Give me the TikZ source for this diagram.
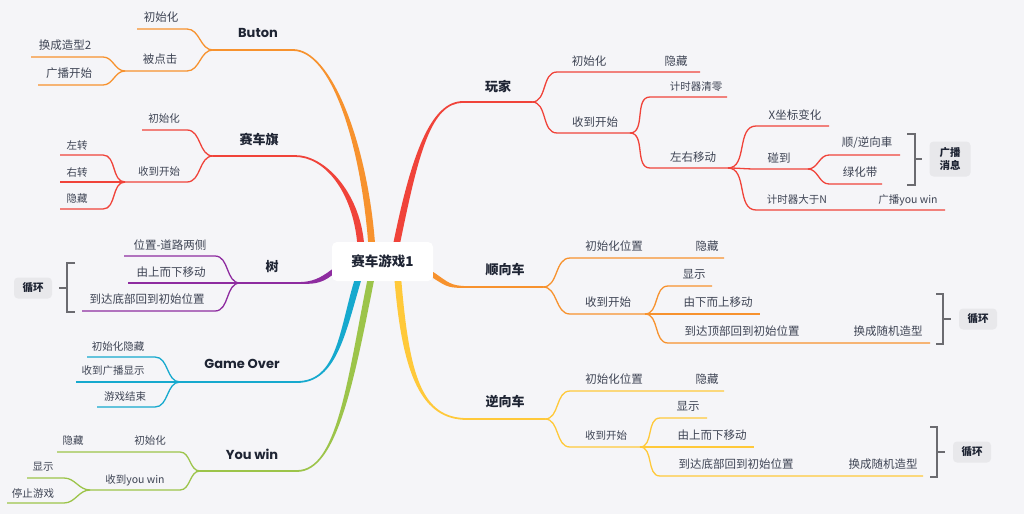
\documentclass[tikz,border=0pt]{standalone}
\usepackage{fontspec}
\setmainfont{Noto Sans CJK SC}
\newfontfamily\headfont{Poppins}
\usetikzlibrary{calc}
\definecolor{bg}{HTML}{F5F5F8}
\definecolor{cR}{HTML}{F0433A}
\definecolor{cO}{HTML}{F7922E}
\definecolor{cY}{HTML}{FFC93A}
\definecolor{cP}{HTML}{8E2CA0}
\definecolor{cC}{HTML}{16A9CE}
\definecolor{cG}{HTML}{9CC44A}
\definecolor{txt}{HTML}{3E4454}
\definecolor{dark}{HTML}{1E2433}
\definecolor{brk}{HTML}{6B6B70}
\definecolor{tagbg}{HTML}{E8E8EB}
% tapered main branch: colour, from, to, ctrl1, ctrl2, half width at start, half width at end
\newcommand{\trunk}[7]{%
  \fill[#1] ($(#2)+(#6)$) .. controls ($(#2)+(#4)+(#6)$) and ($(#3)+(#5)+(#7)$) .. ($(#3)+(#7)$)
    -- ($(#3)-(#7)$) .. controls ($(#3)+(#5)-(#7)$) and ($(#2)+(#4)-(#6)$) .. ($(#2)-(#6)$) -- cycle;}
\tikzset{
  root/.style={fill=white, rounded corners=5pt, minimum width=101pt, minimum height=39pt,
    inner sep=0pt, text=dark, font=\bfseries\fontsize{13.5}{16}\selectfont},
  mainlbl/.style={text=dark, inner sep=1pt, font=\bfseries\fontsize{13}{15}\selectfont},
  enlbl/.style={text=dark, inner sep=1pt, font=\headfont\bfseries\fontsize{13}{15}\selectfont},
  lbl/.style={text=txt, inner sep=1pt, font=\fontsize{11.5}{13}\selectfont},
  slbl/.style={text=txt, inner sep=1pt, font=\fontsize{10.5}{12}\selectfont},
  twig/.style={draw=#1, line width=1.3pt},
  rgo/.style={out=0, in=180},
  lgo/.style={out=180, in=0},
  brace/.style={draw=brk, line width=1.3pt},
  tag/.style={fill=tagbg, rounded corners=4pt, text=dark, inner sep=0pt, align=center,
    minimum width=38pt, minimum height=21pt, font=\bfseries\fontsize{10.5}{13}\selectfont},
}
\begin{document}
\begin{tikzpicture}[x=1pt,y=-1pt]
\fill[bg] (0,0) rectangle (1024,514);
\useasboundingbox (0,0) rectangle (1024,514);

\node[root] (root) at (382.5,261.5) {赛车游戏1};

% 玩家
\coordinate (rWJ) at ($(root.north)+(14.5,0)$);
\coordinate (wjA) at (463,102);
\coordinate (wjB) at (532,102);
\node[mainlbl] (wj) at (498,86) {玩家};
\trunk{cR}{rWJ}{wjA}{18,-88}{-32,0}{3.4,0}{0,0.9}
\draw[twig=cR] (wjA) -- (wjB);
\coordinate (wj1a) at (557,72); \coordinate (wj1b) at (650,72); \coordinate (wj1c) at (700,72);
\node[lbl] (wj1) at (589,61) {初始化};
\node[lbl] (wj11) at (676,61) {隐藏};
\draw[twig=cR] (wjB) to[rgo] (wj1a) -- (wj1b) -- (wj1c);
\coordinate (wj2a) at (557,133); \coordinate (wj2b) at (630,133);
\node[lbl] (wj2) at (595,122) {收到开始};
\draw[twig=cR] (wjB) to[rgo] (wj2a) -- (wj2b);
\coordinate (wj21a) at (650,97); \coordinate (wj21b) at (727,97);
\node[slbl] (wj21) at (696,87) {计时器清零};
\draw[twig=cR] (wj2b) to[rgo] (wj21a) -- (wj21b);
\coordinate (wj22a) at (650,168); \coordinate (wj22b) at (728,168);
\node[lbl] (wj22) at (693,157) {左右移动};
\draw[twig=cR] (wj2b) to[rgo] (wj22a) -- (wj22b);
\coordinate (mv1a) at (756,126); \coordinate (mv1b) at (829,126);
\node[lbl] (mv1) at (795,115) {X坐标变化};
\draw[twig=cR] (wj22b) to[rgo] (mv1a) -- (mv1b);
\coordinate (mv2a) at (756,169); \coordinate (mv2b) at (808,169);
\node[lbl] (mv2) at (779,158) {碰到};
\draw[twig=cR] (wj22b) to[rgo] (mv2a) -- (mv2b);
\coordinate (hit1a) at (829,155); \coordinate (hit1b) at (900,155);
\node[lbl] (hit1) at (867,143) {顺/逆向車};
\draw[twig=cR] (mv2b) to[rgo] (hit1a) -- (hit1b);
\coordinate (hit2a) at (829,184); \coordinate (hit2b) at (882,184);
\node[lbl] (hit2) at (860,172) {绿化带};
\draw[twig=cR] (mv2b) to[rgo] (hit2a) -- (hit2b);
\coordinate (mv3a) at (756,210); \coordinate (mv3b) at (853,210); \coordinate (mv3c) at (945,210);
\node[slbl] (mv3) at (797,200) {计时器大于N};
\node[slbl] (mv31) at (908,200) {广播you win};
\draw[twig=cR] (wj22b) to[rgo] (mv3a) -- (mv3b) -- (mv3c);
\node[tag, minimum width=41pt, minimum height=35pt] (msg) at (950,159) {广播\\消息};
\coordinate (msgT) at (922,159);
\draw[brace] (907,134) -- (915,134) -- (915,185) -- (907,185);
\draw[brace] (915,159) -- (msgT);

% 顺向车
\coordinate (rSX) at ($(root.east)+(0,13.5)$);
\coordinate (sxA) at (468,287);
\coordinate (sxB) at (543,287);
\node[mainlbl] (sx) at (505,270) {顺向车};
\trunk{cO}{rSX}{sxA}{15,10}{-18,0}{0,3}{0,0.9}
\draw[twig=cO] (sxA) -- (sxB);
\coordinate (sx1a) at (570,258); \coordinate (sx1b) at (660,258); \coordinate (sx1c) at (724,258);
\node[lbl] (sx1) at (614,246) {初始化位置};
\node[lbl] (sx11) at (707,246) {隐藏};
\draw[twig=cO] (sxB) to[rgo] (sx1a) -- (sx1b) -- (sx1c);
\coordinate (sx2a) at (570,314); \coordinate (sx2b) at (645,314);
\node[lbl] (sx2) at (608,302) {收到开始};
\draw[twig=cO] (sxB) to[rgo] (sx2a) -- (sx2b);
\coordinate (sx21a) at (668,286); \coordinate (sx21b) at (712,286);
\node[lbl] (sx21) at (694,274) {显示};
\draw[twig=cO] (sx2b) to[rgo] (sx21a) -- (sx21b);
\coordinate (sx22a) at (668,314); \coordinate (sx22b) at (760,314);
\node[lbl] (sx22) at (718,302) {由下而上移动};
\draw[twig=cO] (sx2b) to[rgo] (sx22a) -- (sx22b);
\coordinate (sx23a) at (668,343); \coordinate (sx23b) at (838,343); \coordinate (sx23c) at (930,343);
\node[lbl] (sx23) at (742,331) {到达顶部回到初始位置};
\node[lbl] (sx231) at (888,331) {换成随机造型};
\draw[twig=cO] (sx2b) to[rgo] (sx23a) -- (sx23b) -- (sx23c);
\node[tag] (loop2) at (978,319) {循环};
\coordinate (loop2T) at (951,319);
\draw[brace] (936,294) -- (943,294) -- (943,344) -- (936,344);
\draw[brace] (943,319) -- (loop2T);

% 逆向车
\coordinate (rNX) at ($(root.south)+(15.5,0)$);
\coordinate (nxA) at (467,419);
\coordinate (nxB) at (545,419);
\node[mainlbl] (nx) at (505,402) {逆向车};
\trunk{cY}{rNX}{nxA}{8,95}{-45,0}{-3.4,0}{0,0.9}
\draw[twig=cY] (nxA) -- (nxB);
\coordinate (nx1a) at (570,391); \coordinate (nx1b) at (655,391); \coordinate (nx1c) at (724,391);
\node[lbl] (nx1) at (614,379) {初始化位置};
\node[lbl] (nx11) at (707,379) {隐藏};
\draw[twig=cY] (nxB) to[rgo] (nx1a) -- (nx1b) -- (nx1c);
\coordinate (nx2a) at (570,447); \coordinate (nx2b) at (640,447);
\node[slbl] (nx2) at (606,436) {收到开始};
\draw[twig=cY] (nxB) to[rgo] (nx2a) -- (nx2b);
\coordinate (nx21a) at (660,418); \coordinate (nx21b) at (707,418);
\node[lbl] (nx21) at (688,406) {显示};
\draw[twig=cY] (nx2b) to[rgo] (nx21a) -- (nx21b);
\coordinate (nx22a) at (660,447); \coordinate (nx22b) at (754,447);
\node[lbl] (nx22) at (712,435) {由上而下移动};
\draw[twig=cY] (nx2b) to[rgo] (nx22a) -- (nx22b);
\coordinate (nx23a) at (660,476); \coordinate (nx23b) at (833,476); \coordinate (nx23c) at (923,476);
\node[lbl] (nx23) at (736,464) {到达底部回到初始位置};
\node[lbl] (nx231) at (883,464) {换成随机造型};
\draw[twig=cY] (nx2b) to[rgo] (nx23a) -- (nx23b) -- (nx23c);
\node[tag] (loop3) at (972,452) {循环};
\coordinate (loop3T) at (945,452);
\draw[brace] (930,427) -- (937,427) -- (937,477) -- (930,477);
\draw[brace] (937,452) -- (loop3T);

% Buton
\coordinate (rBN) at ($(root.north)+(-11,0)$);
\coordinate (bnA) at (213,50);
\coordinate (bnB) at (293,50);
\node[enlbl] (bn) at (258,33) {Buton};
\trunk{cO}{rBN}{bnB}{-8,-100}{38,0}{3.4,0}{0,-0.9}
\draw[twig=cO] (bnB) -- (bnA);
\coordinate (bn1a) at (187,29); \coordinate (bn1b) at (137,29);
\node[lbl] (bn1) at (161,17) {初始化};
\draw[twig=cO] (bnA) to[lgo] (bn1a) -- (bn1b);
\coordinate (bn2a) at (187,71); \coordinate (bn2b) at (125,71);
\node[lbl] (bn2) at (160,59) {被点击};
\draw[twig=cO] (bnA) to[lgo] (bn2a) -- (bn2b);
\coordinate (bn21a) at (103,57); \coordinate (bn21b) at (31,57);
\node[lbl] (bn21) at (65,45) {换成造型2};
\draw[twig=cO] (bn2b) to[lgo] (bn21a) -- (bn21b);
\coordinate (bn22a) at (103,85); \coordinate (bn22b) at (38,85);
\node[lbl] (bn22) at (69,73) {广播开始};
\draw[twig=cO] (bn2b) to[lgo] (bn22a) -- (bn22b);

% 赛车旗
\coordinate (rSC) at ($(root.north)+(-22,0)$);
\coordinate (scA) at (213,156);
\coordinate (scB) at (295,156);
\node[mainlbl] (sc) at (259,139) {赛车旗};
\trunk{cR}{rSC}{scB}{-5,-50}{30,0}{3.4,0}{0,-0.9}
\draw[twig=cR] (scB) -- (scA);
\coordinate (sc1a) at (187,130); \coordinate (sc1b) at (142,130);
\node[slbl] (sc1) at (164,119) {初始化};
\draw[twig=cR] (scA) to[lgo] (sc1a) -- (sc1b);
\coordinate (sc2a) at (187,182); \coordinate (sc2b) at (125,182);
\node[slbl] (sc2) at (159,172) {收到开始};
\draw[twig=cR] (scA) to[lgo] (sc2a) -- (sc2b);
\coordinate (sc21a) at (103,155); \coordinate (sc21b) at (60,155);
\node[slbl] (sc21) at (77,146) {左转};
\draw[twig=cR] (sc2b) to[lgo] (sc21a) -- (sc21b);
\coordinate (sc22a) at (103,182); \coordinate (sc22b) at (60,182);
\node[slbl] (sc22) at (77,173) {右转};
\draw[twig=cR] (sc2b) to[lgo] (sc22a) -- (sc22b);
\coordinate (sc23a) at (103,209); \coordinate (sc23b) at (60,209);
\node[slbl] (sc23) at (77,199) {隐藏};
\draw[twig=cR] (sc2b) to[lgo] (sc23a) -- (sc23b);

% 树
\coordinate (rSH) at ($(root.west)+(0,11)$);
\coordinate (shA) at (240,283);
\coordinate (shB) at (298,283);
\node[mainlbl] (sh) at (272,267) {树};
\trunk{cP}{rSH}{shB}{-12,9}{14,0}{0,-3}{0,-0.9}
\draw[twig=cP] (shB) -- (shA);
\coordinate (sh1a) at (215,256); \coordinate (sh1b) at (124,256);
\node[lbl] (sh1) at (170,245) {位置-道路两侧};
\draw[twig=cP] (shA) to[lgo] (sh1a) -- (sh1b);
\coordinate (sh2a) at (215,283); \coordinate (sh2b) at (128,283);
\node[lbl] (sh2) at (171,272) {由上而下移动};
\draw[twig=cP] (shA) to[lgo] (sh2a) -- (sh2b);
\coordinate (sh3a) at (215,311); \coordinate (sh3b) at (82,311);
\node[lbl] (sh3) at (147,299) {到达底部回到初始位置};
\draw[twig=cP] (shA) to[lgo] (sh3a) -- (sh3b);
\node[tag] (loop1) at (33,288) {循环};
\coordinate (loop1T) at (59,288);
\draw[brace] (75,263) -- (67,263) -- (67,312) -- (75,312);
\draw[brace] (67,288) -- (loop1T);

% Game Over
\coordinate (rGO) at ($(root.south)+(-25,0)$);
\coordinate (goA) at (180,382);
\coordinate (goB) at (297,382);
\node[enlbl] (go) at (242,364) {Game Over};
\trunk{cC}{rGO}{goB}{-15,50}{40,0}{-3.4,0}{0,-0.9}
\draw[twig=cC] (goB) -- (goA);
\coordinate (go1a) at (155,357); \coordinate (go1b) at (87,357);
\node[slbl] (go1) at (118,347) {初始化隐藏};
\draw[twig=cC] (goA) to[lgo] (go1a) -- (go1b);
\coordinate (go2a) at (155,382); \coordinate (go2b) at (76,382);
\node[slbl] (go2) at (113,371) {收到广播显示};
\draw[twig=cC] (goA) to[lgo] (go2a) -- (go2b);
\coordinate (go3a) at (155,407); \coordinate (go3b) at (97,407);
\node[slbl] (go3) at (125,397) {游戏结束};
\draw[twig=cC] (goA) to[lgo] (go3a) -- (go3b);

% You win
\coordinate (rYW) at ($(root.south)+(-12,0)$);
\coordinate (ywA) at (200,471);
\coordinate (ywB) at (297,471);
\node[enlbl] (yw) at (252,454) {You win};
\trunk{cG}{rYW}{ywB}{-20,100}{40,0}{-3.4,0}{0,-0.9}
\draw[twig=cG] (ywB) -- (ywA);
\coordinate (yw1a) at (180,452); \coordinate (yw1b) at (127,452); \coordinate (yw1c) at (57,452);
\node[slbl] (yw1) at (150,441) {初始化};
\node[slbl] (yw11) at (73,441) {隐藏};
\draw[twig=cG] (ywA) to[lgo] (yw1a) -- (yw1b) -- (yw1c);
\coordinate (yw2a) at (180,490); \coordinate (yw2b) at (90,490);
\node[slbl] (yw2) at (135,480) {收到you win};
\draw[twig=cG] (ywA) to[lgo] (yw2a) -- (yw2b);
\coordinate (yw21a) at (64,478); \coordinate (yw21b) at (27,478);
\node[slbl] (yw21) at (43,467) {显示};
\draw[twig=cG] (yw2b) to[lgo] (yw21a) -- (yw21b);
\coordinate (yw22a) at (64,503); \coordinate (yw22b) at (7,503);
\node[slbl] (yw22) at (33,494) {停止游戏};
\draw[twig=cG] (yw2b) to[lgo] (yw22a) -- (yw22b);
\end{tikzpicture}
\end{document}
